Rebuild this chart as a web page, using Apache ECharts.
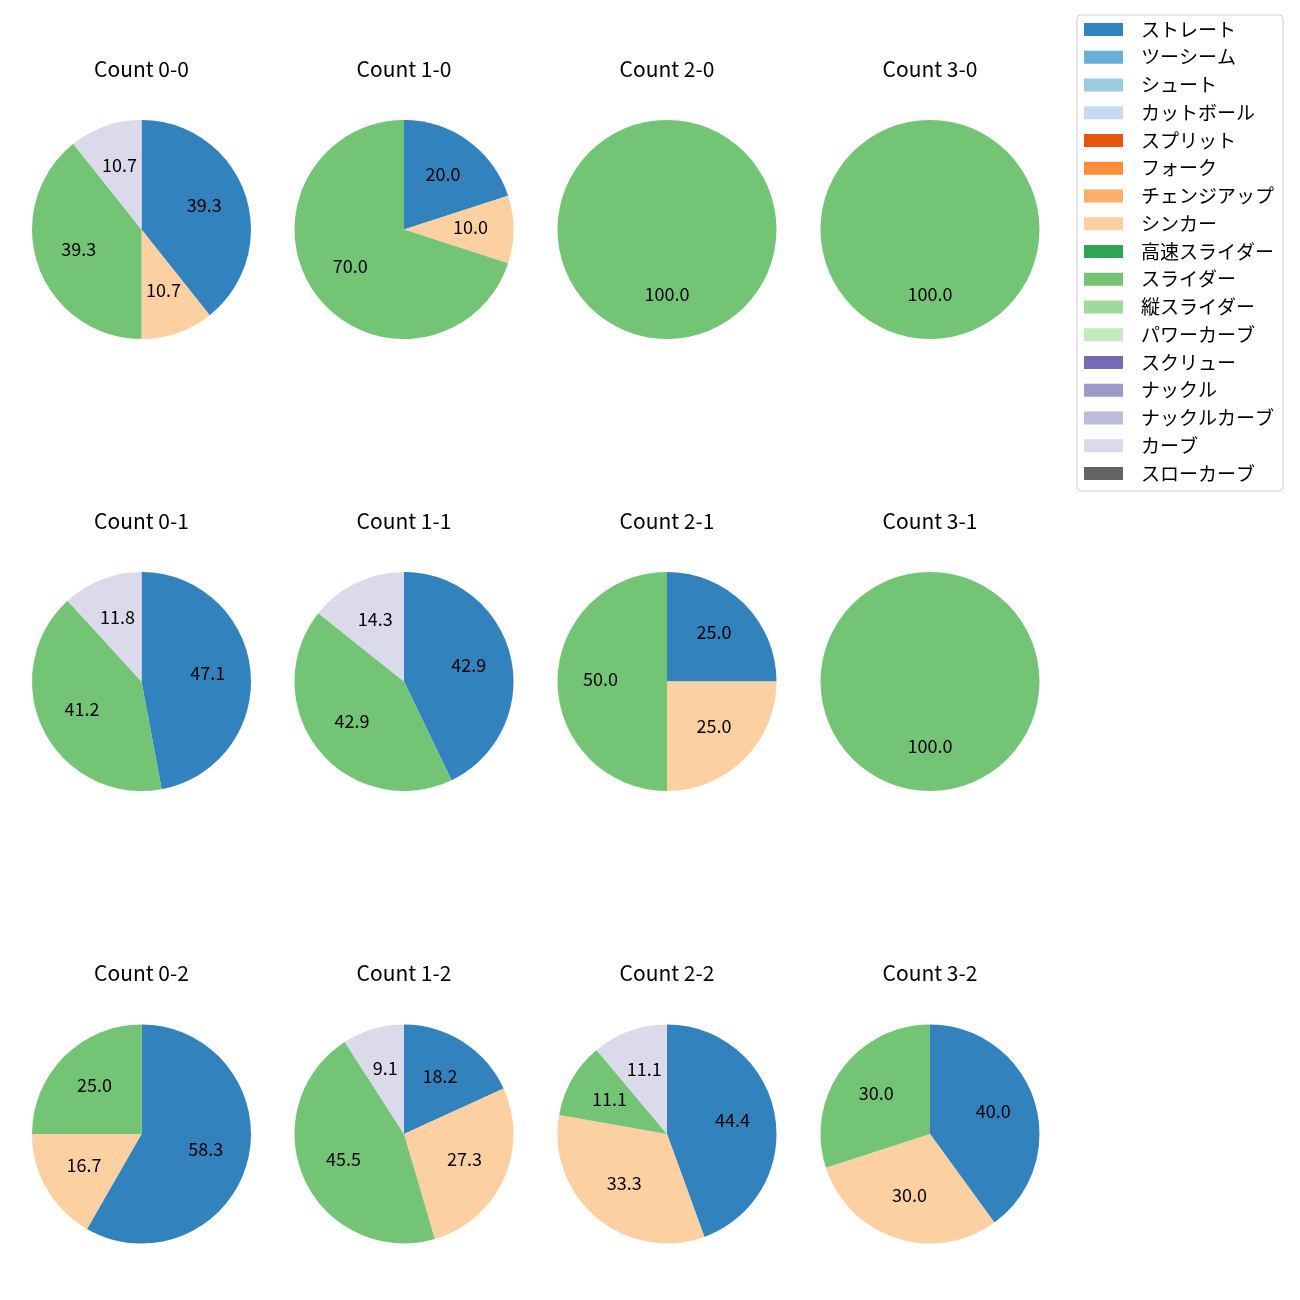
<!DOCTYPE html>
<html><head><meta charset="utf-8">
<script src="https://cdn.jsdelivr.net/npm/echarts@6/dist/echarts.min.js"></script>
<style>html,body{margin:0;padding:0;background:#fff}#c{width:1300px;height:1300px}</style>
</head><body><div id="c"></div>
<script>
const categories = ['ストレート','ツーシーム','シュート','カットボール','スプリット','フォーク','チェンジアップ','シンカー','高速スライダー','スライダー','縦スライダー','パワーカーブ','スクリュー','ナックル','ナックルカーブ','カーブ','スローカーブ'];
const colors = ['#3182bd','#6baed6','#9ecae1','#c6dbef','#e6550d','#fd8d3c','#fdae6b','#fdd0a2','#31a354','#74c476','#a1d99b','#c7e9c0','#756bb1','#9e9ac8','#bcbddc','#dadaeb','#636363'];
const countTitles = ['Count 0-0','Count 1-0','Count 2-0','Count 3-0','Count 0-1','Count 1-1','Count 2-1','Count 3-1','Count 0-2','Count 1-2','Count 2-2','Count 3-2'];
// percentages per category (same order as categories)
const c00 = [39.3,0,0,0,0,0,0,10.7,0,39.3,0,0,0,0,0,10.7,0];
const c10 = [20.0,0,0,0,0,0,0,10.0,0,70.0,0,0,0,0,0,0,0];
const c20 = [0,0,0,0,0,0,0,0,0,100.0,0,0,0,0,0,0,0];
const c30 = [0,0,0,0,0,0,0,0,0,100.0,0,0,0,0,0,0,0];
const c01 = [47.1,0,0,0,0,0,0,0,0,41.2,0,0,0,0,0,11.8,0];
const c11 = [42.9,0,0,0,0,0,0,0,0,42.9,0,0,0,0,0,14.3,0];
const c21 = [25.0,0,0,0,0,0,0,25.0,0,50.0,0,0,0,0,0,0,0];
const c31 = [0,0,0,0,0,0,0,0,0,100.0,0,0,0,0,0,0,0];
const c02 = [58.3,0,0,0,0,0,0,16.7,0,25.0,0,0,0,0,0,0,0];
const c12 = [18.2,0,0,0,0,0,0,27.3,0,45.5,0,0,0,0,0,9.1,0];
const c22 = [44.4,0,0,0,0,0,0,33.3,0,11.1,0,0,0,0,0,11.1,0];
const c32 = [40.0,0,0,0,0,0,0,30.0,0,30.0,0,0,0,0,0,0,0];
const pieValues = [c00,c10,c20,c30,c01,c11,c21,c31,c02,c12,c22,c32];

const FONT = '"Noto Sans CJK JP", "Noto Sans", sans-serif';
const colX = [141.5, 404, 667, 930];
const rowY = [229.5, 681.5, 1134];
const R = 109.5;

const series = [];
const titles = [];
pieValues.forEach((vals, i) => {
  const cx = colX[i % 4], cy = rowY[Math.floor(i / 4)];
  const data = categories.map((n, k) => ({ name: n, value: vals[k] }));
  series.push({
    type: 'pie', center: [cx, cy], radius: [0, R], startAngle: 90, clockwise: true,
    data: data, label: { show: false }, labelLine: { show: false },
    itemStyle: { borderWidth: 0 }, emphasis: { disabled: true }, animation: false
  });
  series.push({
    type: 'pie', center: [cx, cy], radius: [R * 0.16, R], startAngle: 90, clockwise: true,
    data: data.map(d => ({ name: d.name, value: d.value, itemStyle: { color: 'rgba(0,0,0,0)' } })),
    label: { show: true, position: 'inside', color: '#000', fontSize: 18, fontFamily: FONT,
      offset: [0, -2],
      formatter: p => p.value > 0 ? p.value.toFixed(1) : '' },
    labelLine: { show: false }, itemStyle: { borderWidth: 0 }, emphasis: { disabled: true },
    silent: true, animation: false, z: 3
  });
  titles.push({ text: countTitles[i], left: cx, top: cy - 171, textAlign: 'center', padding: 0,
    textStyle: { fontSize: 21, fontWeight: 'normal', color: '#000', fontFamily: FONT } });
});

const chart = echarts.init(document.getElementById('c'));
chart.setOption({
  animation: false,
  color: colors,
  title: titles,
  legend: {
    data: categories, orient: 'vertical', left: 1077, top: 15,
    padding: [5, 9, 8, 7], itemWidth: 39, itemHeight: 13, itemGap: 8.75,
    icon: 'rect', borderColor: '#d0d0d0', borderWidth: 1, borderRadius: 4,
    textStyle: { fontSize: 19, color: '#000', fontFamily: FONT, padding: [0, 0, 0, 13], lineHeight: 19 },
    selectedMode: false
  },
  series: series
});
</script></body></html>
